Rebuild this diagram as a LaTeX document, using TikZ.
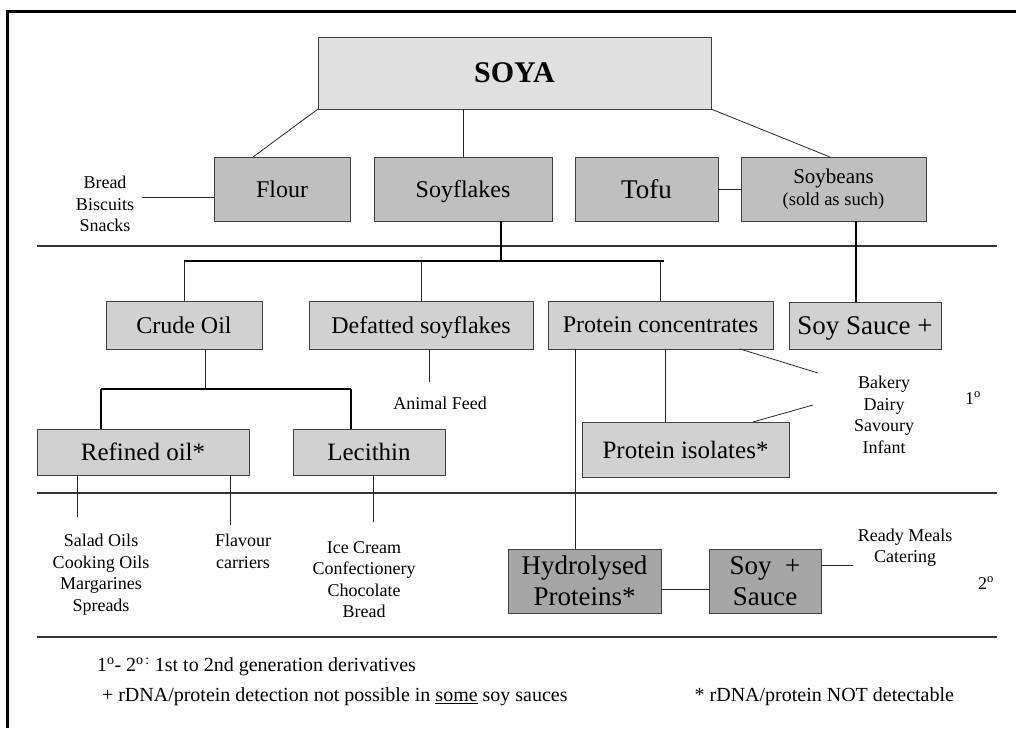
\documentclass[tikz,border=0pt]{standalone}
\usepackage{fontspec}
\setmainfont{Liberation Serif}
\newcommand{\fsz}[2]{\fontsize{#1}{#2}\selectfont}
\begin{document}
\begin{tikzpicture}[x=1pt,y=-1pt,
  every node/.style={inner sep=0pt, outer sep=0pt},
  bx/.style={draw=black!75, line width=1pt, anchor=north west, align=center},
  one/.style={text depth=0pt},
  topbox/.style={bx, fill=black!12},
  rowa/.style={bx, fill=black!25},
  rowb/.style={bx, fill=black!18},
  rowc/.style={bx, fill=black!35},
  lab/.style={align=center, font=\fsz{18}{21.5}},
  con/.style={draw=black!85, line width=0.8pt},
  thk/.style={draw=black, line width=1.6pt},
  rule/.style={draw=black!80, line width=1.2pt},
  foot/.style={font=\fsz{20}{24}},
]
\useasboundingbox (0,0) rectangle (1016,728);
\draw[line width=3pt] (7,728) -- (7,11) -- (1016,11);

% boxes
\node[topbox, one, minimum width=393pt, minimum height=72pt, font=\bfseries\fsz{30}{34}] (soya) at (318,37) {SOYA};
\node[rowa, one, minimum width=136pt, minimum height=64pt, font=\fsz{24}{28}] (flour) at (214,157) {Flour};
\node[rowa, one, minimum width=178pt, minimum height=64pt, font=\fsz{24}{28}] (soyflakes) at (374,157) {Soyflakes};
\node[rowa, one, minimum width=143pt, minimum height=64pt, font=\fsz{27}{30}] (tofu) at (575,157) {Tofu};
\node[rowa, minimum width=185pt, minimum height=64pt] (soybeans) at (741,157) {\fsz{21}{25}Soybeans\\[3pt]\fsz{18.5}{22}(sold as such)};

\node[rowb, one, minimum width=156pt, minimum height=48pt, font=\fsz{24}{28}] (crude) at (106,301) {Crude Oil};
\node[rowb, one, minimum width=224pt, minimum height=48pt, font=\fsz{24}{28}] (defatted) at (309,301) {Defatted soyflakes};
\node[rowb, one, minimum width=225pt, minimum height=48pt, font=\fsz{24}{28}] (pc) at (548,301) {Protein concentrates};
\node[rowb, one, minimum width=152pt, minimum height=47pt, font=\fsz{27}{30}] (soysauce) at (789,302) {Soy Sauce +};

\node[rowb, one, minimum width=212pt, minimum height=46pt, font=\fsz{25}{28}] (refined) at (37,429) {Refined oil*};
\node[rowb, one, minimum width=152pt, minimum height=46pt, font=\fsz{25}{28}] (lecithin) at (293,429) {Lecithin};
\node[rowb, one, minimum width=207pt, minimum height=55pt, font=\fsz{25}{28}] (iso) at (582,422) {Protein isolates*};

\node[rowc, minimum width=153pt, minimum height=64pt, font=\fsz{27}{31}] (hydro) at (508,549) {Hydrolysed\\Proteins*};
\node[rowc, minimum width=112pt, minimum height=64pt, font=\fsz{27}{31}] (soyb) at (709,549) {Soy\ \ +\\Sauce};

% labels
\node[lab] (bread) at (105,204) {Bread\\Biscuits\\Snacks};
\node[lab] (feed) at (440,403) {Animal Feed};
\node[lab] (bakery) at (884,415) {Bakery\\Dairy\\Savoury\\Infant};
\node[lab] (gen1) at (973,398) {1\textsuperscript{o}};
\node[lab] (salad) at (101,574.5) {Salad Oils\\Cooking Oils\\Margarines\\Spreads};
\node[lab] (flavour) at (243,551.5) {Flavour\\carriers};
\node[lab] (ice) at (364,579.5) {Ice Cream\\Confectionery\\Chocolate\\Bread};
\node[lab] (ready) at (905,547.5) {Ready Meals\\Catering};
\node[lab] (gen2) at (986,583) {2\textsuperscript{o}};

% rules
\draw[rule] (37,246) -- (997,246);
\draw[rule] (37,493) -- (997,493);
\draw[rule] (37,637) -- (997,637);

% connectors, top level
\draw[con] (soya.south west) -- ([xshift=39pt]flour.north west);
\draw[con] (soyflakes.north |- soya.south) -- (soyflakes.north);
\draw[con] (soya.south east) -- ([xshift=89pt]soybeans.north west);
\draw[con] ([yshift=-8pt]flour.west) -- ++(-72,0) coordinate (breadend);
\draw[con] (tofu.east) -- (soybeans.west);

% soyflakes branch
\coordinate (j1) at (501,261);
\draw[thk] ([xshift=127pt]soyflakes.south west) -- (j1);
\draw[thk] (crude.north |- j1) -- ([xshift=3pt]pc.north |- j1);
\draw[con] (crude.north |- j1) -- (crude.north);
\draw[con] (defatted.north |- j1) -- (defatted.north);
\draw[con] (pc.north |- j1) -- (pc.north);
\draw[thk] ([xshift=115pt]soybeans.south west) -- ([xshift=67pt]soysauce.north west);

% crude oil branch
\coordinate (j2) at (205,389);
\coordinate (r1) at ([xshift=64pt]refined.north west);
\coordinate (l1) at ([xshift=58pt]lecithin.north west);
\draw[con] ([xshift=99pt]crude.south west) -- (j2);
\draw[thk] (r1 |- j2) -- (l1 |- j2);
\draw[thk] (r1 |- j2) -- (r1);
\draw[thk] (l1 |- j2) -- (l1);

% feed
\draw[con] ([xshift=120pt]defatted.south west) -- ++(0,33) coordinate (feedend);

% protein concentrates
\draw[con] ([xshift=27pt]pc.south west) -- ([xshift=67pt]hydro.north west);
\draw[con] ([xshift=117pt]pc.south west) -- ([xshift=83pt]iso.north west);
\draw[con] ([xshift=192pt]pc.south west) -- ++(78,24) coordinate (bk1);
\draw[con] ([xshift=171pt]iso.north west) -- ++(60,-17) coordinate (bk2);

% oils
\draw[con] ([xshift=40pt]refined.south west) -- ++(0,42) coordinate (saladend);
\draw[con] ([xshift=193pt]refined.south west) -- ++(0,50) coordinate (flavend);
\draw[con] ([xshift=80pt]lecithin.south west) -- ++(0,47) coordinate (iceend);

% second generation
\draw[con] ([yshift=-8pt]hydro.east) -- ([yshift=-8pt]soyb.west);
\draw[con] ([yshift=16pt]soyb.east) -- ++(32,0) coordinate (readyend);

% footnotes
\node[foot, anchor=west] (f1) at (97,667) {1\textsuperscript{o}- 2\textsuperscript{o\,:} 1st to 2nd generation derivatives};
\node[foot, anchor=west] (f2) at (102,697) {+ rDNA/protein detection not possible in \underline{some} soy sauces};
\node[foot, anchor=east] (f3) at (954,697) {* rDNA/protein NOT detectable};
\end{tikzpicture}
\end{document}
